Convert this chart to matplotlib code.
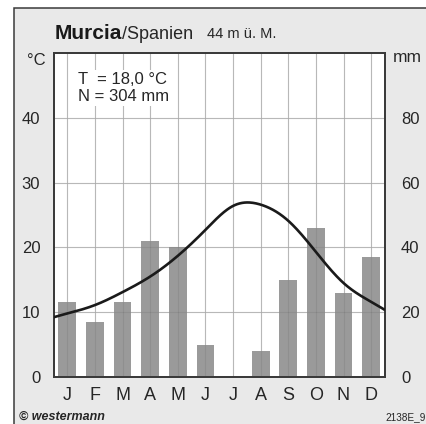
import numpy as np
import matplotlib.pyplot as plt
from matplotlib.patches import Rectangle

# climate data Murcia
months = ['J', 'F', 'M', 'A', 'M', 'J', 'J', 'A', 'S', 'O', 'N', 'D']
temp_c = [9.8, 11.1, 13.1, 15.5, 18.7, 22.7, 26.4, 26.6, 24.1, 19.3, 14.5, 11.6]
precip_mm = [23, 17, 23, 42, 40, 10, 0, 8, 30, 46, 26, 37]
temp_ticks = [0, 10, 20, 30, 40]
precip_ticks = [0, 20, 40, 60, 80]

W, H = 426, 424
BAR = '#9a9a9a'
GRID = '#c6c6c6'
FRAME = '#3a3a3a'
TXT = '#262626'


def natural_spline(xs, ys, xq):
    """Natural cubic spline through (xs, ys), evaluated at xq (end segments extended)."""
    xs = np.asarray(xs, float)
    ys = np.asarray(ys, float)
    n = len(xs)
    h = np.diff(xs)
    A = np.zeros((n, n))
    r = np.zeros(n)
    A[0, 0] = A[-1, -1] = 1
    for i in range(1, n - 1):
        A[i, i - 1] = h[i - 1]
        A[i, i] = 2 * (h[i - 1] + h[i])
        A[i, i + 1] = h[i]
        r[i] = 6 * ((ys[i + 1] - ys[i]) / h[i] - (ys[i] - ys[i - 1]) / h[i - 1])
    m = np.linalg.solve(A, r)
    idx = np.clip(np.searchsorted(xs, xq) - 1, 0, n - 2)
    x0, x1 = xs[idx], xs[idx + 1]
    hh = x1 - x0
    a = (x1 - xq) / hh
    b = (xq - x0) / hh
    return (a * ys[idx] + b * ys[idx + 1]
            + ((a ** 3 - a) * m[idx] + (b ** 3 - b) * m[idx + 1]) * hh ** 2 / 6)


plt.rcParams['font.family'] = ['Liberation Sans', 'DejaVu Sans']
fig = plt.figure(figsize=(W / 100, H / 100), dpi=100)
fig.patch.set_facecolor('white')


def fx(px):
    return px / W


def fy(py):
    return 1 - py / H


# grey card with border, kept behind the axes
card = Rectangle((fx(14), fy(430)), 1.2, fy(8) - fy(430),
                 transform=fig.transFigure, facecolor='#e9e9e9',
                 edgecolor=FRAME, lw=1.1, zorder=-10)
fig.patches.append(card)

left, right, top, bottom = 53.5, 385, 53, 377
rect = [fx(left), fy(bottom), fx(right) - fx(left), fy(top) - fy(bottom)]

# precipitation axis (behind) and temperature axis (on top)
ax2 = fig.add_axes(rect)
ax = ax2.twinx()
ax2.set_facecolor('white')

x = np.arange(1, 13)
ax2.set_xlim(0.5, 12.5)
ax2.set_ylim(0, 100)
for xv in x:
    ax2.axvline(xv, color=GRID, lw=0.8, zorder=0)
for yv in precip_ticks[1:]:
    ax2.axhline(yv, color=GRID, lw=0.8, zorder=0)
ax2.bar(x, precip_mm, width=0.64, color=BAR, zorder=2)
# grid shows faintly through the bars
for xv in x:
    ax2.axvline(xv, color='black', alpha=0.07, lw=0.8, zorder=3)
for yv in precip_ticks[1:]:
    ax2.axhline(yv, color='black', alpha=0.07, lw=0.8, zorder=3)

xs = np.linspace(0.5, 12.5, 400)
ax.plot(xs, natural_spline(x, temp_c, xs), color='#1a1a1a', lw=1.9,
        solid_capstyle='butt', zorder=5)
ax.set_ylim(0, 50)

# ticks: °C left, mm right
ax.yaxis.set_ticks_position('none')
ax2.yaxis.set_ticks_position('none')
ax2.set_yticks([v * 2 for v in temp_ticks])
ax2.set_yticklabels([str(v) for v in temp_ticks], fontsize=12, color=TXT)
ax.set_yticks([v / 2 for v in precip_ticks])
ax.set_yticklabels([str(v) for v in precip_ticks], fontsize=12, color=TXT)
ax2.tick_params(axis='y', pad=6)
ax.tick_params(axis='y', pad=8)
ax2.set_xticks(x)
ax2.set_xticklabels(months, fontsize=13, color=TXT)
ax2.tick_params(axis='x', length=0, pad=7)

for a in (ax, ax2):
    for s in a.spines.values():
        s.set_color(FRAME)
        s.set_linewidth(1.3)

# titles and annotations
fig.text(fx(55), fy(39), 'Murcia', fontsize=15, fontweight='bold',
         color='#1a1a1a', va='baseline')
fig.text(fx(122), fy(39), '/Spanien', fontsize=13, color=TXT, va='baseline')
fig.text(fx(207), fy(38), '44 m ü. M.', fontsize=10.5, color=TXT, va='baseline')
fig.text(fx(27), fy(65), '°C', fontsize=12, color=TXT, va='baseline')
fig.text(fx(393), fy(62), 'mm', fontsize=12.5, color=TXT, va='baseline')
box = dict(facecolor='white', edgecolor='none', pad=1.5)
fig.text(fx(78), fy(84), 'T  = 18,0 °C', fontsize=12, color=TXT,
         va='baseline', bbox=box)
fig.text(fx(78), fy(101), 'N = 304 mm', fontsize=12, color=TXT,
         va='baseline', bbox=box)
fig.text(fx(19), fy(420), '© westermann', fontsize=9, fontweight='bold',
         style='italic', color=TXT, va='baseline')
fig.text(fx(426), fy(420), '2138E_9', fontsize=7.2, color=TXT,
         va='baseline', ha='right')

fig.savefig('out.png', dpi=100)
